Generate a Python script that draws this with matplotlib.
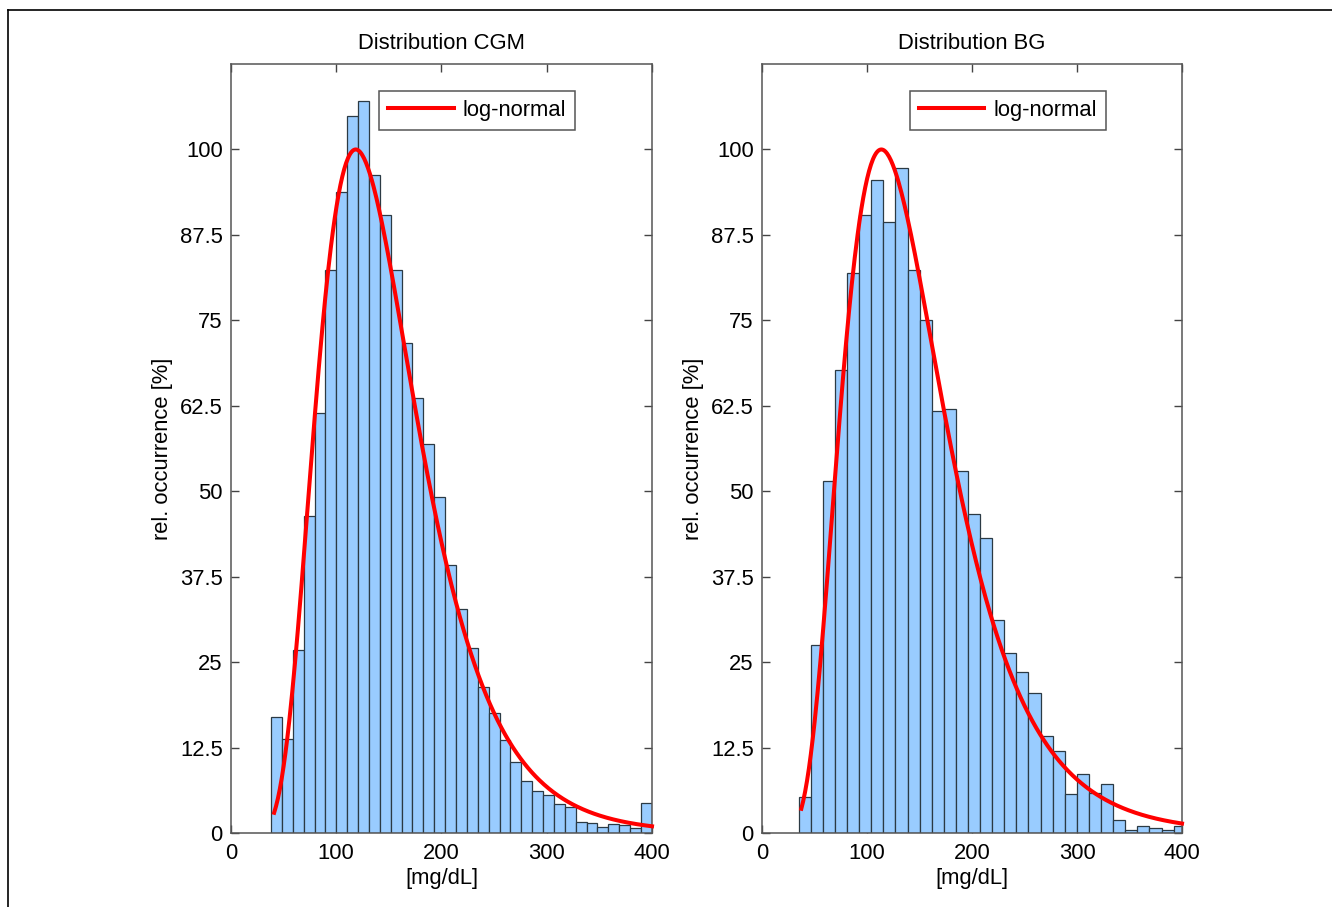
import numpy as np
import matplotlib
matplotlib.use("Agg")
import matplotlib.pyplot as plt
from matplotlib.lines import Line2D

plt.rcParams['font.family'] = ['Liberation Sans', 'DejaVu Sans']
plt.rcParams['font.size'] = 15.8

# histogram bars (relative occurrence, %)
cgm_bin_start = 38.0
cgm_bin_width = 10.34
cgm_counts = [16.9, 13.8, 26.7, 46.4, 61.5, 82.3, 93.8, 104.9, 107.1, 96.2,
              90.4, 82.3, 71.7, 63.6, 56.9, 49.1, 39.2, 32.7, 27.0, 21.3,
              17.5, 13.6, 10.4, 7.6, 6.1, 5.6, 4.3, 3.8, 1.6, 1.4,
              0.9, 1.3, 1.1, 0.7, 4.4]

bg_bin_start = 34.9
bg_bin_width = 11.52
bg_counts = [5.2, 27.5, 51.5, 67.8, 82.0, 90.4, 95.6, 89.4, 97.3, 82.4,
             75.0, 61.7, 62.0, 52.9, 46.6, 43.2, 31.1, 26.3, 23.5, 20.5,
             14.2, 12.0, 5.7, 8.7, 5.9, 7.2, 1.9, 0.4, 1.0, 0.7,
             0.4, 1.0]

# fitted log-normal parameters (mu, sigma of ln x) and plotted range
cgm_fit = (4.935, 0.40)
bg_fit = (4.918, 0.43)
cgm_range = (41, 400)
bg_range = (37.4, 400)

titles = ['Distribution CGM', 'Distribution BG']
yticks = [0, 12.5, 25, 37.5, 50, 62.5, 75, 87.5, 100]
yticklabels = ['0', '12.5', '25', '37.5', '50', '62.5', '75', '87.5', '100']
xticks = [0, 100, 200, 300, 400]


def lognormal_rel(x, mu, sigma):
    # log-normal pdf scaled so that its peak is 100
    pdf = np.exp(-(np.log(x) - mu) ** 2 / (2 * sigma ** 2)) / x
    mode = np.exp(mu - sigma ** 2)
    peak = np.exp(-(np.log(mode) - mu) ** 2 / (2 * sigma ** 2)) / mode
    return 100 * pdf / peak


fig = plt.figure(figsize=(13.32, 9.07), dpi=100)
ax1 = fig.add_axes([0.1734, 0.0816, 0.3161, 0.8478])
ax2 = fig.add_axes([0.5721, 0.0816, 0.3153, 0.8478])

panels = [
    (ax1, cgm_bin_start, cgm_bin_width, cgm_counts, cgm_fit, cgm_range, titles[0]),
    (ax2, bg_bin_start, bg_bin_width, bg_counts, bg_fit, bg_range, titles[1]),
]

for ax, start, width, counts, fit, rng, title in panels:
    left = start + width * np.arange(len(counts))
    ax.bar(left, counts, width=width, align='edge', color='#99ccff',
           edgecolor='#2b3a44', linewidth=0.9, zorder=2)
    xs = np.linspace(rng[0], rng[1], 400)
    ax.plot(xs, lognormal_rel(xs, *fit), color='red', lw=2.9,
            label='log-normal', zorder=3, clip_on=False)

    ax.set_xlim(0, 400)
    ax.set_ylim(0, 112.5)
    ax.set_xticks(xticks)
    ax.set_yticks(yticks)
    ax.set_yticklabels(yticklabels)
    ax.tick_params(direction='in', length=6, width=1, color='#444444',
                   top=True, right=True)
    ax.tick_params(axis='x', pad=7)
    ax.tick_params(axis='y', pad=6)
    for sp in ax.spines.values():
        sp.set_color('#555555')
        sp.set_linewidth(1.1)

    ax.set_title(title, fontsize=15.8, pad=11)
    ax.set_xlabel('[mg/dL]', labelpad=3)
    ax.set_ylabel('rel. occurrence [%]', labelpad=5)

    leg = ax.legend(loc='upper left', bbox_to_anchor=(0.352, 0.965),
                    handlelength=3.0, handletextpad=0.4, borderpad=0.4,
                    fancybox=False, framealpha=1, edgecolor='#555555',
                    fontsize=15.8, borderaxespad=0)
    leg.get_frame().set_linewidth(1.1)

# partial frame around the figure
fig.add_artist(Line2D([0.006, 0.006], [0.0, 0.989], color='black', lw=1.2))
fig.add_artist(Line2D([0.006, 1.0], [0.989, 0.989], color='black', lw=1.2))

fig.savefig('out.png', dpi=100)
